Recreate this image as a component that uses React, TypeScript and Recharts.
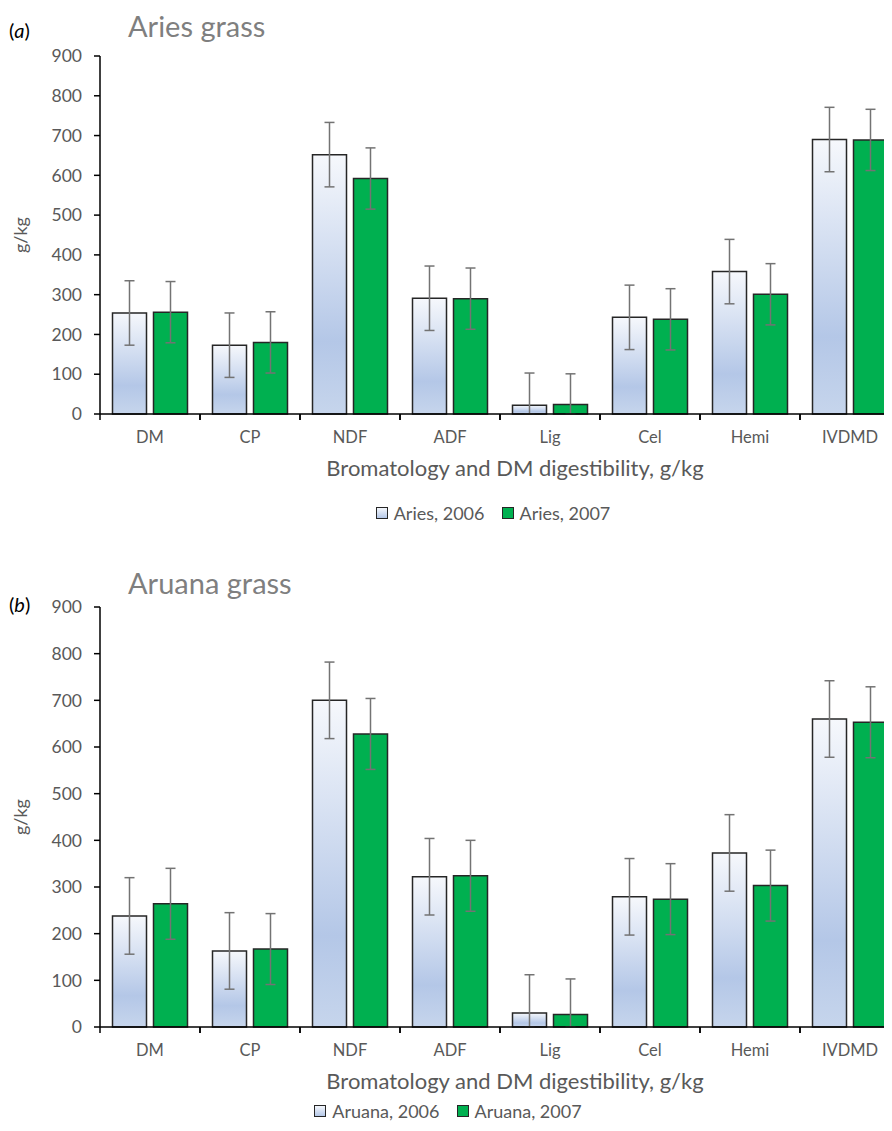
// Aries / Aruana grass bromatology — two grouped bar charts with error bars

import React from 'react';
import { BarChart, Bar, XAxis, YAxis, ErrorBar, Legend } from 'recharts';

const categories = ['DM', 'CP', 'NDF', 'ADF', 'Lig', 'Cel', 'Hemi', 'IVDMD'];
const yTicks = [0, 100, 200, 300, 400, 500, 600, 700, 800, 900];

// (a) Aries grass
const aries2006 = [254, 173, 652, 291, 22, 243, 358, 690];
const aries2007 = [256, 180, 592, 290, 24, 238, 301, 689];
const ariesErr2006 = [81, 81, 81, 81, 81, 81, 81, 81];
const ariesErr2007 = [77, 77, 77, 77, 77, 77, 77, 77];

// (b) Aruana grass
const aruana2006 = [238, 163, 700, 322, 30, 279, 373, 660];
const aruana2007 = [264, 167, 628, 324, 27, 274, 303, 653];
const aruanaErr2006 = [82, 82, 82, 82, 82, 82, 82, 82];
const aruanaErr2007 = [76, 76, 76, 76, 76, 76, 76, 76];

const FONT = 'Lato, "Open Sans", sans-serif';
const GRAY = '#595959';
const GREEN = '#00b050';
const EDGE = '#262626';

// error whiskers can't go below zero, so clip the lower side at the axis
function buildRows(a: number[], b: number[], ea: number[], eb: number[]) {
  return categories.map((name, i) => ({
    name,
    y2006: a[i],
    y2007: b[i],
    e2006: [Math.min(ea[i], a[i]), ea[i]],
    e2007: [Math.min(eb[i], b[i]), eb[i]],
  }));
}

const ariesRows = buildRows(aries2006, aries2007, ariesErr2006, ariesErr2007);
const aruanaRows = buildRows(aruana2006, aruana2007, aruanaErr2006, aruanaErr2007);

function CategoryTick(props: any) {
  const { x, y, payload } = props;
  return (
    <g>
      <line x1={x - 50} y1={y} x2={x - 50} y2={y + 6} stroke="#000" strokeWidth={1.5} />
      <line x1={x + 50} y1={y} x2={x + 50} y2={y + 6} stroke="#000" strokeWidth={1.5} />
      <text x={x} y={y + 23} textAnchor="middle" dominantBaseline="central"
        fill={GRAY} fontSize={16.5} fontFamily={FONT}>
        {payload.value}
      </text>
    </g>
  );
}

function LegendSwatches({ labels }: { labels: string[] }) {
  return (
    <div style={{ display: 'flex', justifyContent: 'center', gap: 17, fontFamily: FONT, fontSize: 18, color: GRAY }}>
      {labels.map((label, i) => (
        <span key={label} style={{ display: 'flex', alignItems: 'center' }}>
          <span style={{
            width: 10, height: 10, marginRight: 6, border: `1.5px solid ${EDGE}`,
            background: i === 0 ? 'linear-gradient(#f4f7fc, #b4c7e7)' : GREEN,
          }} />
          {label}
        </span>
      ))}
    </div>
  );
}

interface PanelProps {
  rows: any[];
  top: number;
  height: number;
  marginTop: number;
  marginBottom: number;
  tag: string;
  title: string;
  titleTop: number;
  tagTop: number;
  legendLabels: string[];
  legendTop: number;
  legendLeft: number;
  gradId: string;
}

function Panel(p: PanelProps) {
  return (
    <div style={{ position: 'absolute', left: 0, top: p.top, width: 900, height: p.height }}>
      <div style={{ position: 'absolute', left: 9, top: p.tagTop, fontFamily: FONT, fontSize: 20, color: '#000' }}>
        (<i>{p.tag}</i>)
      </div>
      <div style={{ position: 'absolute', left: 128, top: p.titleTop, fontFamily: FONT, fontSize: 29, color: '#7f7f7f' }}>
        {p.title}
      </div>
      <BarChart width={900} height={p.height} data={p.rows}
        margin={{ top: p.marginTop, right: 0, left: 0, bottom: p.marginBottom }}
        barCategoryGap="12.5%" barGap={7}>
        <defs>
          <linearGradient id={p.gradId} x1="0" y1="0" x2="0" y2="1">
            <stop offset="0%" stopColor="#f6f8fc" />
            <stop offset="72%" stopColor="#b4c7e7" />
            <stop offset="100%" stopColor="#c6d5ec" />
          </linearGradient>
        </defs>
        <XAxis dataKey="name" height={60} tickSize={0} tickMargin={0} tickLine={false}
          axisLine={{ stroke: '#000', strokeWidth: 1.5 }} tick={<CategoryTick />} interval={0}
          label={{
            content: (lp: any) => (
              <text x={515} y={lp.viewBox.y + 53} textAnchor="middle" dominantBaseline="central"
                fill={GRAY} fontSize={22} fontFamily={FONT}>
                Bromatology and DM digestibility, g/kg
              </text>
            ),
          }} />
        <YAxis width={100} domain={[0, 900]} ticks={yTicks} interval={0} tickSize={6} tickMargin={12}
          axisLine={{ stroke: '#000', strokeWidth: 1.5 }} tickLine={{ stroke: '#000', strokeWidth: 1.5 }}
          tick={{ fill: GRAY, fontSize: 17.5, fontFamily: FONT }}
          label={{
            content: (lp: any) => {
              const cy = lp.viewBox.y + lp.viewBox.height / 2;
              return (
                <text x={20} y={cy} transform={`rotate(-90 20 ${cy})`} textAnchor="middle"
                  dominantBaseline="central" fill={GRAY} fontSize={18} fontFamily={FONT}>
                  g/kg
                </text>
              );
            },
          }} />
        <Legend verticalAlign="middle" align="center" layout="horizontal"
          wrapperStyle={{ top: p.legendTop, left: p.legendLeft, width: 800 }}
          content={() => <LegendSwatches labels={p.legendLabels} />} />
        <Bar dataKey="y2006" name={p.legendLabels[0]} fill={`url(#${p.gradId})`} stroke={EDGE} strokeWidth={1.5}
          isAnimationActive={false}>
          <ErrorBar dataKey="e2006" width={5} stroke="#737373" strokeWidth={1.5} />
        </Bar>
        <Bar dataKey="y2007" name={p.legendLabels[1]} fill={GREEN} stroke={EDGE} strokeWidth={1.5}
          isAnimationActive={false}>
          <ErrorBar dataKey="e2007" width={5} stroke="#737373" strokeWidth={1.5} />
        </Bar>
      </BarChart>
    </div>
  );
}

export default function App() {
  return (
    <div style={{ position: 'relative', width: 892, height: 1131, margin: -8, overflow: 'hidden', background: '#fff' }}>
      <Panel rows={ariesRows} top={0} height={540} marginTop={56} marginBottom={66}
        tag="a" title="Aries grass" titleTop={8} tagTop={18}
        legendLabels={['Aries, 2006', 'Aries, 2007']} legendTop={502} legendLeft={93} gradId="gradA" />
      <Panel rows={aruanaRows} top={560} height={571} marginTop={47} marginBottom={44}
        tag="b" title="Aruana grass" titleTop={5} tagTop={32}
        legendLabels={['Aruana, 2006', 'Aruana, 2007']} legendTop={540} legendLeft={48} gradId="gradB" />
    </div>
  );
}
